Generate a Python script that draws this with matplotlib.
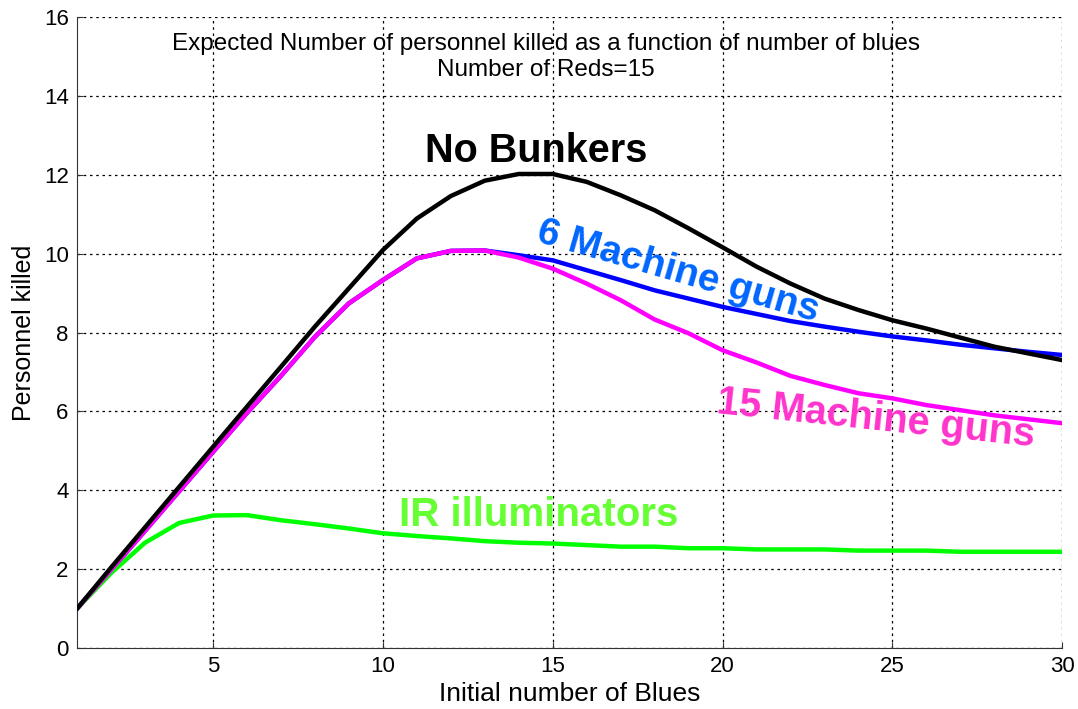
import matplotlib
matplotlib.use("Agg")
import matplotlib.pyplot as plt

plt.rcParams["font.family"] = ["Liberation Sans", "DejaVu Sans"]

# number of blues on the x axis
blues = list(range(1, 31))

no_bunkers = [1.0, 2.04, 3.06, 4.08, 5.1, 6.12, 7.13, 8.15, 9.12, 10.09,
              10.89, 11.46, 11.85, 12.02, 12.02, 11.82, 11.48, 11.1, 10.64, 10.16,
              9.67, 9.24, 8.86, 8.57, 8.31, 8.1, 7.87, 7.64, 7.47, 7.3]
mg6 = [1.0, 1.98, 2.97, 3.97, 4.97, 5.96, 6.9, 7.89, 8.74, 9.33,
       9.88, 10.07, 10.08, 9.96, 9.83, 9.58, 9.33, 9.07, 8.86, 8.65,
       8.47, 8.29, 8.15, 8.02, 7.9, 7.8, 7.69, 7.6, 7.51, 7.43]
mg15 = [1.0, 1.98, 2.97, 3.97, 4.97, 5.96, 6.9, 7.89, 8.74, 9.33,
        9.88, 10.07, 10.08, 9.9, 9.62, 9.24, 8.82, 8.33, 7.98, 7.55,
        7.24, 6.9, 6.67, 6.46, 6.33, 6.16, 6.03, 5.9, 5.8, 5.7]
ir = [1.0, 1.9, 2.67, 3.17, 3.36, 3.37, 3.24, 3.14, 3.03, 2.91,
      2.84, 2.78, 2.71, 2.67, 2.65, 2.61, 2.57, 2.57, 2.53, 2.53,
      2.5, 2.5, 2.5, 2.47, 2.47, 2.47, 2.44, 2.44, 2.44, 2.44]

fig = plt.figure(figsize=(10.78, 7.09), dpi=100)
ax = fig.add_axes([0.0715, 0.086, 0.914, 0.89])

ax.plot(blues, mg6, color="#0000ff", lw=3.2, zorder=3)
ax.plot(blues, ir, color="#00ff00", lw=3.2, zorder=3)
ax.plot(blues, mg15, color="#ff00ff", lw=3.2, zorder=4)
ax.plot(blues, no_bunkers, color="black", lw=3.2, zorder=5)

ax.set_xlim(1, 30)
ax.set_ylim(0, 16)
ax.set_xticks([5, 10, 15, 20, 25, 30])
ax.set_yticks(range(0, 17, 2))
ax.grid(True, color="black", linestyle=(0, (2, 3)), lw=0.9)
ax.tick_params(direction="in", labelsize=16, length=4, color="#333333", pad=6)
for side in ["top", "right"]:
    ax.spines[side].set_visible(False)
for side in ["left", "bottom"]:
    ax.spines[side].set_color("#333333")
ax.set_xlabel("Initial number of Blues", fontsize=19, labelpad=3)
ax.set_ylabel("Personnel killed", fontsize=18, labelpad=6)

ax.text(14.8, 15.6, "Expected Number of personnel killed as a function of number of blues\nNumber of Reds=15",
        ha="center", va="top", fontsize=17.5, linespacing=1.25)

ax.text(14.5, 12.6, "No Bunkers", ha="center", va="center", fontsize=28.5, fontweight="bold", color="black")
ax.text(18.7, 9.55, "6 Machine guns", ha="center", va="center", fontsize=28, fontweight="bold",
        color="#0066ff", rotation=-16)
ax.text(24.5, 5.82, "15 Machine guns", ha="center", va="center", fontsize=28.5, fontweight="bold",
        color="#ff33cc", rotation=-6)
ax.text(14.6, 3.37, "IR illuminators", ha="center", va="center", fontsize=29, fontweight="bold",
        color="#66ff33")

fig.savefig("out.png", dpi=100)
